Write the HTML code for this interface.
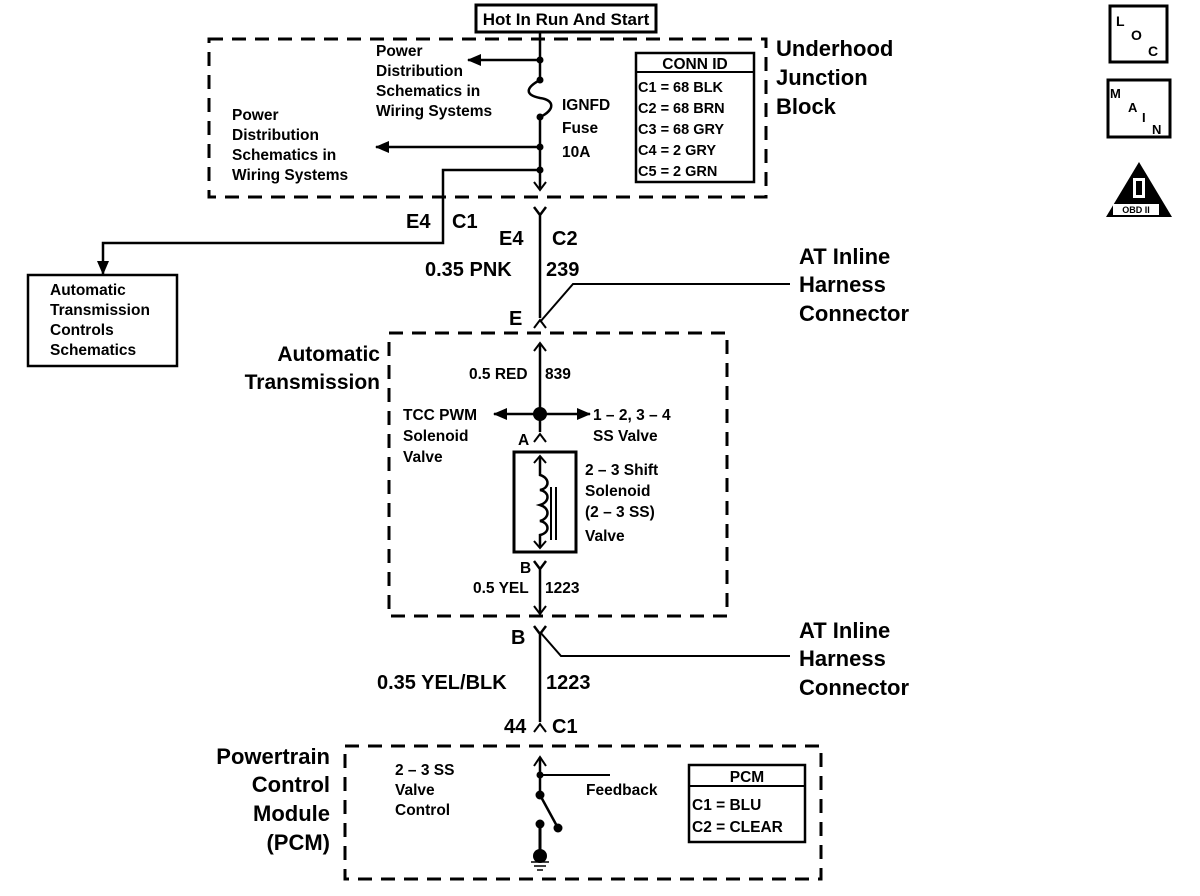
<!DOCTYPE html>
<html><head><meta charset="utf-8"><style>
html,body{margin:0;padding:0;background:#fff;}
svg{display:block;}
text{font-family:"Liberation Sans",Arial,sans-serif;fill:#000;font-weight:bold;}
.s{font-size:15.5px;}
.m{font-size:17px;}
.L{font-size:22px;}
</style></head><body>
<svg width="1200" height="896" viewBox="0 0 1200 896" xmlns="http://www.w3.org/2000/svg">
<defs>
<marker id="ah" markerWidth="14" markerHeight="12" refX="13" refY="6" orient="auto" markerUnits="userSpaceOnUse"><path d="M0,0 L14,6 L0,12 z" fill="#000"/></marker>
</defs>
<g fill="none" stroke="#000">
<rect x="476" y="5" width="180" height="27" stroke-width="3"/>
<rect x="209" y="39" width="557" height="158" stroke-width="3" stroke-dasharray="14,9"/>
<rect x="389" y="333" width="338" height="283" stroke-width="3" stroke-dasharray="14,9"/>
<rect x="345" y="746" width="476" height="133" stroke-width="3" stroke-dasharray="14,9"/>
<path d="M540,32 V80" stroke-width="2.5"/>
<path d="M540,80 C525,88 525,95 540,98 C555,100 555,110 540,117" stroke-width="2.5"/>
<path d="M540,117 V188" stroke-width="2.5"/>
<path d="M534,182 L540,190 L546,182" stroke-width="2"/>
<path d="M540,60 H468" stroke-width="2.5" marker-end="url(#ah)"/>
<path d="M540,147 H376" stroke-width="2.5" marker-end="url(#ah)"/>
<path d="M540,170 H443 V243 H103 V274" stroke-width="2.5" marker-end="url(#ah)"/>
<rect x="636" y="53" width="118" height="129" stroke-width="2.5"/>
<path d="M636,72 H754" stroke-width="2"/>
<path d="M534,207 L540,215 L546,207 M540,215 V318" stroke-width="2.5"/>
<path d="M534,328 L540,320 L546,328" stroke-width="2"/>
<path d="M540,322 L573,284 H790" stroke-width="2"/>
<rect x="28" y="275" width="149" height="91" stroke-width="2.5"/>
<path d="M540,343 V432" stroke-width="2.5"/>
<path d="M534,351 L540,343 L546,351" stroke-width="2"/>
<path d="M540,414 H494" stroke-width="2.5" marker-end="url(#ah)"/>
<path d="M540,414 H590" stroke-width="2.5" marker-end="url(#ah)"/>
<path d="M534,442 L540,434 L546,442" stroke-width="2"/>
<rect x="514" y="452" width="62" height="100" stroke-width="3"/>
<path d="M540,456 V475 C550,478 550,488 540,490 C550,492 550,502 540,505 C550,508 550,518 540,521 C550,523 550,533 540,535 V548" stroke-width="2.5"/>
<path d="M534,463 L540,456 L546,463 M534,541 L540,548 L546,541" stroke-width="2"/>
<path d="M551,487 V540 M556,487 V540" stroke-width="2"/>
<path d="M534,561 L540,569 L546,561 M540,569 V614" stroke-width="2.5"/>
<path d="M534,606 L540,614 L546,606" stroke-width="2"/>
<path d="M534,626 L540,634 L546,626 M540,634 V722" stroke-width="2.5"/>
<path d="M540,632 L561,656 H790" stroke-width="2"/>
<path d="M534,732 L540,724 L546,732" stroke-width="2"/>
<path d="M540,757 V795 L558,828" stroke-width="2.5"/>
<path d="M534,766 L540,757 L546,766" stroke-width="2"/>
<path d="M540,775 H610" stroke-width="2"/>
<path d="M540,824 V856" stroke-width="3"/>
<path d="M531,862 H549 M534,866 H546 M537,870 H543" stroke-width="1.5"/>
<rect x="689" y="765" width="116" height="77" stroke-width="2.5"/>
<path d="M689,786 H805" stroke-width="2"/>
<rect x="1110" y="6" width="57" height="56" stroke-width="3"/>
<rect x="1108" y="80" width="62" height="57" stroke-width="3"/>
</g>
<g fill="#000">
<circle cx="540" cy="60" r="3.5"/><circle cx="540" cy="80" r="3.5"/><circle cx="540" cy="117" r="3.5"/><circle cx="540" cy="147" r="3.5"/><circle cx="540" cy="170" r="3.5"/>
<circle cx="540" cy="414" r="7"/>
<circle cx="540" cy="775" r="3.5"/><circle cx="540" cy="795" r="4.5"/><circle cx="558" cy="828" r="4.5"/><circle cx="540" cy="824" r="4.5"/><circle cx="540" cy="856" r="7"/>
<path d="M1139,162 L1172,217 L1106,217 z"/>
</g>
<rect x="1113" y="204" width="46" height="11" fill="#fff"/>
<rect x="1133" y="178" width="12" height="20" fill="#fff"/>
<rect x="1136" y="181" width="6" height="14" fill="#000"/>
<text x="1136" y="213" text-anchor="middle" style="font-size:9px">OBD II</text>

<text x="566" y="25" class="m" text-anchor="middle">Hot In Run And Start</text>
<text class="s" x="376" y="56">Power</text>
<text class="s" x="376" y="76">Distribution</text>
<text class="s" x="376" y="96">Schematics in</text>
<text class="s" x="376" y="116">Wiring Systems</text>
<text class="s" x="232" y="120">Power</text>
<text class="s" x="232" y="140">Distribution</text>
<text class="s" x="232" y="160">Schematics in</text>
<text class="s" x="232" y="180">Wiring Systems</text>
<text class="s" x="562" y="110">IGNFD</text>
<text class="s" x="562" y="133">Fuse</text>
<text class="s" x="562" y="157">10A</text>
<text class="s" x="695" y="69" text-anchor="middle">CONN ID</text>
<text class="s" x="638" y="92" style="font-size:14.5px">C1 = 68 BLK</text>
<text class="s" x="638" y="113" style="font-size:14.5px">C2 = 68 BRN</text>
<text class="s" x="638" y="134" style="font-size:14.5px">C3 = 68 GRY</text>
<text class="s" x="638" y="155" style="font-size:14.5px">C4 =  2 GRY</text>
<text class="s" x="638" y="176" style="font-size:14.5px">C5 =  2 GRN</text>
<text class="L" x="776" y="56">Underhood</text>
<text class="L" x="776" y="85">Junction</text>
<text class="L" x="776" y="114">Block</text>
<text x="406" y="228" style="font-size:20px">E4</text>
<text x="452" y="228" style="font-size:20px">C1</text>
<text x="499" y="245" style="font-size:20px">E4</text>
<text x="552" y="245" style="font-size:20px">C2</text>
<text x="425" y="276" style="font-size:20px">0.35 PNK</text>
<text x="546" y="276" style="font-size:20px">239</text>
<text x="509" y="325" style="font-size:20px">E</text>
<text class="L" x="799" y="264">AT Inline</text>
<text class="L" x="799" y="292">Harness</text>
<text class="L" x="799" y="321">Connector</text>
<text class="s" x="50" y="295">Automatic</text>
<text class="s" x="50" y="315">Transmission</text>
<text class="s" x="50" y="335">Controls</text>
<text class="s" x="50" y="355">Schematics</text>
<text class="L" x="380" y="361" text-anchor="end" style="font-size:21px">Automatic</text>
<text class="L" x="380" y="389" text-anchor="end" style="font-size:21px">Transmission</text>
<text class="s" x="469" y="379">0.5 RED</text>
<text class="s" x="545" y="379">839</text>
<text class="s" x="403" y="420">TCC PWM</text>
<text class="s" x="403" y="441">Solenoid</text>
<text class="s" x="403" y="462">Valve</text>
<text class="s" x="593" y="420">1 – 2, 3 – 4</text>
<text class="s" x="593" y="441">SS Valve</text>
<text class="s" x="518" y="445">A</text>
<text class="s" x="585" y="475">2 – 3 Shift</text>
<text class="s" x="585" y="496">Solenoid</text>
<text class="s" x="585" y="517">(2 – 3 SS)</text>
<text class="s" x="585" y="541">Valve</text>
<text class="s" x="520" y="573">B</text>
<text class="s" x="473" y="593">0.5 YEL</text>
<text class="s" x="545" y="593">1223</text>
<text x="511" y="644" style="font-size:20px">B</text>
<text class="L" x="799" y="638">AT Inline</text>
<text class="L" x="799" y="666">Harness</text>
<text class="L" x="799" y="695">Connector</text>
<text x="377" y="689" style="font-size:20px">0.35 YEL/BLK</text>
<text x="546" y="689" style="font-size:20px">1223</text>
<text x="504" y="733" style="font-size:20px">44</text>
<text x="552" y="733" style="font-size:20px">C1</text>
<text class="L" x="330" y="764" text-anchor="end">Powertrain</text>
<text class="L" x="330" y="792" text-anchor="end">Control</text>
<text class="L" x="330" y="821" text-anchor="end">Module</text>
<text class="L" x="330" y="850" text-anchor="end">(PCM)</text>
<text class="s" x="395" y="775">2 – 3 SS</text>
<text class="s" x="395" y="795">Valve</text>
<text class="s" x="395" y="815">Control</text>
<text class="s" x="586" y="795">Feedback</text>
<text class="s" x="747" y="782" text-anchor="middle">PCM</text>
<text class="s" x="692" y="810">C1 = BLU</text>
<text class="s" x="692" y="832">C2 = CLEAR</text>
<text x="1116" y="26" style="font-size:14px">L</text>
<text x="1131" y="40" style="font-size:14px">O</text>
<text x="1148" y="56" style="font-size:14px">C</text>
<text x="1110" y="98" style="font-size:13px">M</text>
<text x="1128" y="112" style="font-size:13px">A</text>
<text x="1142" y="122" style="font-size:13px">I</text>
<text x="1152" y="134" style="font-size:13px">N</text>
</svg>
</body></html>
